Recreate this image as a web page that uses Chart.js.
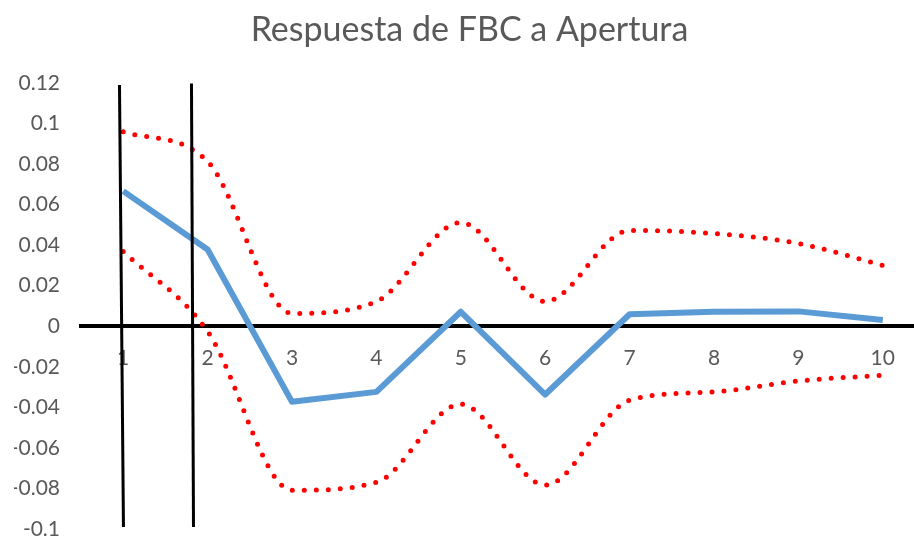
<!DOCTYPE html>
<html>
<head>
<meta charset="utf-8">
<script src="https://cdn.jsdelivr.net/npm/chart.js@4"></script>
<style>
  html, body { margin: 0; padding: 0; background: #fff; overflow: hidden; }
  #wrap { width: 944px; height: 539px; }
</style>
</head>
<body>
<div id="wrap"><canvas id="irf"></canvas></div>
<script>
// periods of the impulse response
const periods = [1, 2, 3, 4, 5, 6, 7, 8, 9, 10];
// response of FBC to a shock in Apertura, with its bands
const response = [0.0666, 0.0378, -0.0373, -0.0324, 0.0071, -0.0337, 0.0059, 0.0071, 0.0073, 0.0030];
const upperBand = [0.0959, 0.0812, 0.0063, 0.0122, 0.0511, 0.0122, 0.0472, 0.0457, 0.0408, 0.0300];
const lowerBand = [0.0368, -0.0026, -0.0809, -0.0770, -0.0385, -0.0784, -0.0365, -0.0324, -0.0270, -0.0242];
// the two hand drawn markers (x at the top end, x at the bottom end)
const markerTopX = [0.956, 1.809];
const markerBottomX = [1.003, 1.833];
const markerTopY = [0.1189, 0.1197];
const markerBottomY = [-0.099, -0.099];

const toPoints = (vals) => periods.map((p, i) => ({ x: p, y: vals[i] }));

const markers = markerTopX.map((x, i) => ({
  data: [{ x: x, y: markerTopY[i] }, { x: markerBottomX[i], y: markerBottomY[i] }],
  borderColor: '#000000',
  borderWidth: 3,
  pointRadius: 0,
  tension: 0,
  order: 0
}));

const band = (vals) => ({
  data: toPoints(vals),
  borderColor: '#FF0000',
  borderWidth: 5,
  borderDash: [0, 12],
  borderCapStyle: 'round',
  pointRadius: 0,
  cubicInterpolationMode: 'monotone',
  order: 2
});

new Chart(document.getElementById('irf'), {
  type: 'line',
  data: {
    datasets: [
      ...markers,
      {
        data: toPoints(response),
        borderColor: '#5B9BD5',
        borderWidth: 6,
        borderJoinStyle: 'round',
        pointRadius: 0,
        tension: 0,
        order: 1
      },
      band(upperBand),
      band(lowerBand)
    ]
  },
  options: {
    responsive: true,
    maintainAspectRatio: false,
    animation: false,
    layout: { padding: { left: 14, right: 19, top: 0, bottom: 10 } },
    plugins: {
      legend: { display: false },
      tooltip: { enabled: false },
      title: {
        display: true,
        text: 'Respuesta de FBC a Apertura',
        color: '#595959',
        font: { family: 'Lato', size: 34, weight: 'normal' },
        padding: { top: 10, bottom: 32 }
      }
    },
    scales: {
      x: {
        type: 'linear',
        position: { y: 0 },
        min: 0.5,
        max: 10.5,
        afterBuildTicks: (scale) => { scale.ticks = periods.map(v => ({ value: v })); },
        // axis sits on the zero line, so it needs no side padding
        afterFit: (scale) => { scale.paddingLeft = 0; scale.paddingRight = 0; },
        grid: { display: false, drawTicks: false },
        border: { display: true, color: '#000000', width: 4 },
        ticks: {
          color: '#595959',
          font: { family: 'Lato', size: 21 },
          padding: 19,
          autoSkip: false,
          maxRotation: 0,
          callback: (v) => String(v)
        }
      },
      y: {
        min: -0.1,
        max: 0.12,
        // fixed label column width; labels are right aligned against the plot
        afterFit: (scale) => { scale.width = 67; scale.paddingTop = 0; scale.paddingBottom = 0; },
        grid: { display: false, drawTicks: false },
        border: { display: false },
        ticks: {
          stepSize: 0.02,
          color: '#595959',
          font: { family: 'Lato', size: 21 },
          padding: 21,
          callback: (v) => String(parseFloat(v.toFixed(2)))
        }
      }
    }
  }
});
</script>
</body>
</html>
